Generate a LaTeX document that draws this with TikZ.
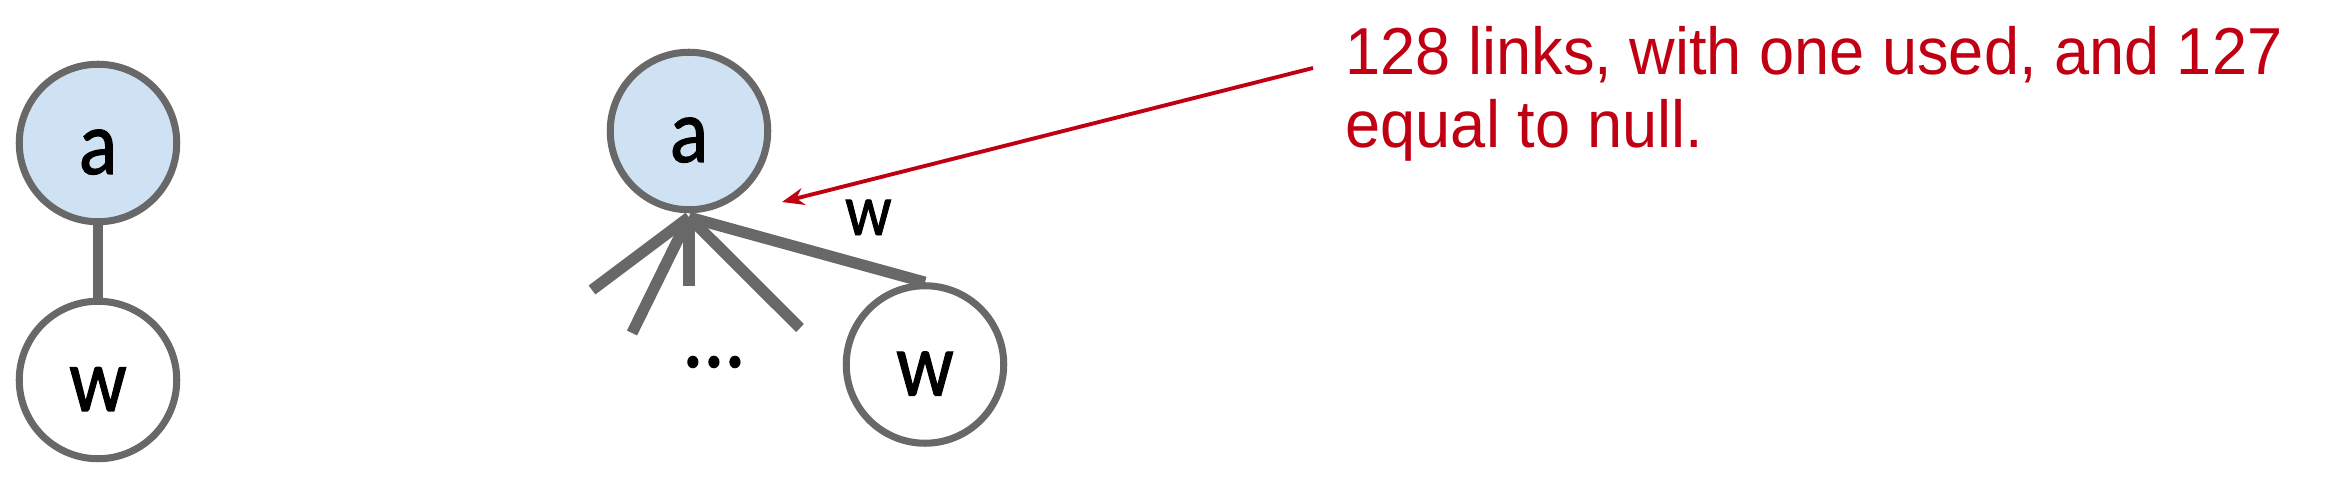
\documentclass[tikz,border=0pt]{standalone}
\usepackage{fontspec}
\usepackage{tikz}
\usetikzlibrary{arrows.meta,positioning,calc}
\newfontfamily\nodefont{Carlito}[FakeStretch=0.88,FakeBold=1.2]
\newfontfamily\notefont{Liberation Sans}[FakeStretch=0.95]
\definecolor{edgegray}{RGB}{104,104,104}
\definecolor{nodeblue}{RGB}{207,226,243}
\definecolor{notered}{RGB}{192,0,18}
\tikzset{
vertex/.style = {draw=edgegray, line width=2pt, circle, minimum size=1.575cm, inner sep=0pt, text height=0.62cm, text depth=0pt, font=\nodefont\fontsize{26}{28}\selectfont},
root/.style = {vertex, fill=nodeblue},
leaf/.style = {vertex, fill=white},
link/.style = {draw=edgegray, line width=3.2pt},
weight/.style = {inner sep=0pt, font=\nodefont\fontsize{21}{23}\selectfont},
note/.style = {text=notered, align=left, inner sep=0pt, font=\notefont\fontsize{18.9}{21}\selectfont},
pointer/.style = {draw=notered, line width=1.1pt, -{Stealth[length=0.22cm,width=0.17cm]}}
}
\begin{document}
\begin{tikzpicture}[node distance=2.37cm]
    \useasboundingbox (0,0) rectangle (23.28,4.82);
    \node [root] (a1) at (0.98,3.39) {a};
    \node [leaf, below of=a1] (w1) {w};
    \draw [link, line width=2.8pt] (a1) -- (w1);
    \node [root] (a2) at (6.89,3.51) {a};
    \node [leaf] (w2) at (9.25,1.175) {w};
    \coordinate (hub) at ([yshift=-0.04cm]a2.south);
    \coordinate (n1) at (5.92,1.92);
    \coordinate (n2) at (6.32,1.49);
    \coordinate (n3) at (6.89,1.96);
    \coordinate (n4) at (8.00,1.54);
    \foreach \e in {n1,n2,n3,n4}
        \draw [link] (hub) -- (\e);
    \draw [link] (hub) -- node[weight, pos=0.76, above=0.26cm] (wlabel) {w} (w2.north);
    \node [weight, font=\nodefont\fontsize{27}{28}\selectfont] (dots) at (7.14,1.20) {...};
    \node [note, anchor=base west] (note) at (13.45,3.34) {128 links, with one used, and 127\\equal to null.};
    \coordinate (tail) at (13.13,4.14);
    \coordinate (ptr) at (7.82,2.80);
    \draw [pointer] (tail) -- (ptr);
\end{tikzpicture}
\end{document}
